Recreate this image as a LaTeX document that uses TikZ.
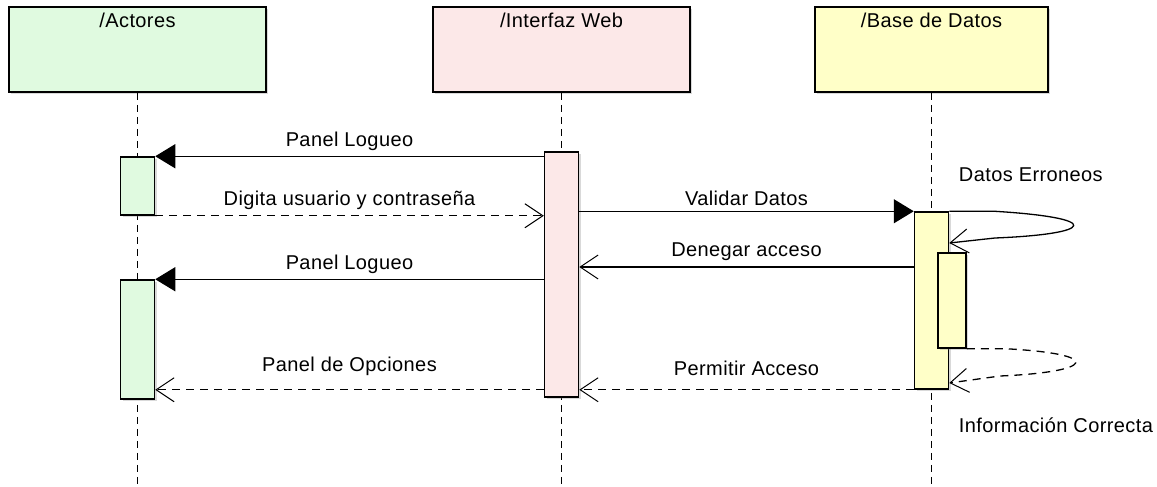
\documentclass[tikz,border=0pt]{standalone}
\usepackage{fontspec}
\setmainfont{Liberation Sans}
\newfontfamily\msgfont[LetterSpace=2]{Liberation Sans}
\newcommand\letra{\msgfont\fontsize{20}{24}\selectfont}
\usepackage{tikz}
\usetikzlibrary{arrows.meta,shadows}
\definecolor{verdeA}{RGB}{224,250,224}
\definecolor{rosaW}{RGB}{252,232,232}
\definecolor{amarB}{RGB}{255,255,200}
\begin{document}
\begin{tikzpicture}[x=1pt,y=-1pt,line width=1.3pt,
    caja/.style={draw, line width=1.6pt, minimum width=257pt, minimum height=85pt, inner sep=0pt,
        drop shadow={shadow xshift=2pt,shadow yshift=-2pt,opacity=0.3}},
    barra/.style={draw, line width=1.5pt, minimum width=34pt, inner sep=0pt,
        drop shadow={shadow xshift=2pt,shadow yshift=-2pt,opacity=0.3}},
    titulo/.style={font=\letra, anchor=north, yshift=-3pt},
    vida/.style={dash pattern=on 7pt off 5pt},
    punteada/.style={dash pattern=on 8pt off 6pt},
    llena/.style={-{Triangle[length=20pt,width=24pt]}},
    abierta/.style={-{Straight Barb[length=18pt,width=24pt,line width=1pt]}},
    texto/.style={font=\letra, above=2pt}]

    \useasboundingbox (0,0) rectangle (1157,487);

    \node[caja, fill=verdeA, label={[titulo]north:/Actores}] (nodeActores) at (137.5,49.5) {};
    \node[caja, fill=rosaW, label={[titulo]north:/Interfaz Web}] (nodeWeb) at (561.5,49.5) {};
    \node[caja, fill=amarB, minimum width=233pt, label={[titulo]north:/Base de Datos}] (nodeBase) at (931.5,49.5) {};

    \coordinate (fin) at (0,484);
    \draw[vida] (nodeActores.south) -- (nodeActores.south |- fin);
    \draw[vida] (nodeWeb.south) -- (nodeWeb.south |- fin);
    \draw[vida] (nodeBase.south) -- (nodeBase.south |- fin);

    \node[barra, fill=verdeA, minimum height=58pt] (barA1) at (137.5,186) {};
    \node[barra, fill=verdeA, minimum height=119pt] (barA2) at (137.5,339.5) {};
    \node[barra, fill=rosaW, minimum height=245pt] (barWeb) at (561.5,274.5) {};
    \node[barra, fill=amarB, minimum height=177pt] (barBase) at (931.5,300.5) {};
    \node[barra, fill=amarB, minimum width=28pt, minimum height=95pt] (barBase2) at (952,300.5) {};

    \draw[llena] (barWeb.west |- barA1.north) -- node[texto]{Panel Logueo} (barA1.north east);
    \draw[abierta, punteada] (barA1.south east) -- node[texto]{Digita usuario y contraseña} (barWeb.west |- barA1.south east);
    \draw[llena] (barWeb.east |- barBase.north) -- node[texto]{Validar Datos} (barBase.north west);
    \draw[abierta] (barBase.north east) -- ++(45,0) .. controls (1105,218) and (1095,234) .. (995,238) -- (barBase.east |- 0,243);
    \node[font=\letra, anchor=base west] (txtErroneos) at (955,181) {Datos Erroneos};
    \draw[abierta] (barBase.west |- 0,267) -- node[texto]{Denegar acceso} (barWeb.east |- 0,267);
    \draw[llena] (barWeb.west |- barA2.north) -- node[texto]{Panel Logueo} (barA2.north east);
    \draw[abierta, punteada] (barBase2.south east) -- ++(39,0) .. controls (1105,354) and (1095,372) .. (1000,376) -- (barBase.east |- 0,383);
    \draw[abierta, punteada] (barBase.south west) -- node[texto, above=8pt]{Permitir Acceso} (barWeb.east |- barBase.south west);
    \draw[abierta, punteada] (barWeb.west |- barBase.south) -- node[texto, above=8pt]{Panel de Opciones} (barA2.east |- barBase.south);
    \node[font=\letra, anchor=base west] (txtCorrecta) at (955,432) {Información Correcta};

\end{tikzpicture}
\end{document}
